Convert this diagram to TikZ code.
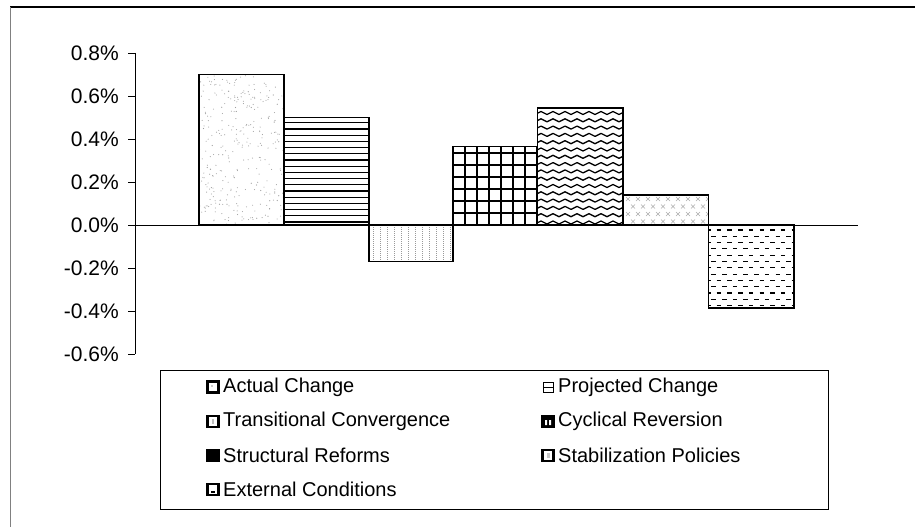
\documentclass[tikz,border=0pt]{standalone}
\usepackage{fontspec}
\setmainfont{Liberation Sans}
\begin{document}
\begin{tikzpicture}[x=1pt,y=-1pt,
  barbox/.style={draw=black,line width=1.7pt},
  ticklbl/.style={font=\fontsize{21}{25}\selectfont, inner sep=0pt, anchor=east},
  leglbl/.style={font=\fontsize{20}{24}\selectfont, inner sep=0pt, anchor=west},
  legsym/.style={draw=black, line width=2.8pt, minimum size=11pt, inner sep=0pt, fill=white},
  patline/.style={line width=1.3pt, black},
]
\useasboundingbox (0,0) rectangle (915,527);
% outer frame
\draw[line width=1.4pt] (10,7) -- (915,7);
\draw[line width=0.8pt, gray] (10,7) -- (10,527);

% axis
\coordinate (axtop) at (135,53);
\coordinate (axbot) at (135,354);
\coordinate (zl) at (135,225);
\coordinate (zr) at (858,225);
\draw[line width=0.9pt] (axtop) -- (axbot);
\foreach \v/\t in {0/0.8\%,1/0.6\%,2/0.4\%,3/0.2\%,4/0.0\%,5/-0.2\%,6/-0.4\%,7/-0.6\%}{
  \draw[line width=0.9pt] (128,{53+43*\v}) -- (135,{53+43*\v});
  \node[ticklbl] (tick\v) at (119,{53+43*\v}) {\t};
}

% bar 1: random dots
\begin{scope}
\clip (199,74.5) rectangle (284,225);
\pgfmathsetseed{7}
\foreach \i in {1,...,320}{
  \pgfmathsetmacro\px{199+85*rnd}
  \pgfmathsetmacro\py{74.5+150.5*rnd}
  \fill[gray!75] (\px,\py) circle (0.55);
}
\end{scope}
% bar 2: horizontal lines
\begin{scope}
\clip (284,117.5) rectangle (369,225);
\foreach \k in {0,...,17}{
  \draw[patline] (284,{222-6.2*\k}) -- (369,{222-6.2*\k});
}
\end{scope}
% bar 3: vertical dotted lines
\begin{scope}
\clip (369,225) rectangle (453,261.5);
\foreach \k in {0,...,11}{
  \draw[gray!80, line width=0.7pt, dash pattern=on 1pt off 1pt] ({373+7*\k},225) -- ({373+7*\k},261.5);
}
\end{scope}
% bar 4: grid
\begin{scope}
\clip (453,146.5) rectangle (537.5,225);
\foreach \k in {1,...,7}{
  \draw[patline] ({453+12*\k},146.5) -- ({453+12*\k},225);
}
\foreach \k in {1,...,6}{
  \draw[patline] (453,{225-12*\k}) -- (537.5,{225-12*\k});
}
\end{scope}
% bar 5: zigzag lines
\begin{scope}
\clip (537.5,107.8) rectangle (623,225);
\foreach \k in {0,...,16}{
  \draw[patline, line join=round] (535,{224-7.3*\k}) \foreach \j in {1,...,8}{ -- ++(6,-3) -- ++(6,3)};
}
\end{scope}
% bar 6: light crosses
\begin{scope}
\clip (623,194.9) rectangle (708.5,225);
\foreach \a in {0,...,8}{
  \foreach \b in {0,...,3}{
    \pgfmathsetmacro\cx{628+10*\a+5*mod(\b,2)}
    \pgfmathsetmacro\cy{199+7.5*\b}
    \draw[gray!65, line width=0.6pt] (\cx-2,\cy-2) -- (\cx+2,\cy+2) (\cx-2,\cy+2) -- (\cx+2,\cy-2);
  }
}
\end{scope}
% bar 7: staggered dashes
\begin{scope}
\clip (708.5,225) rectangle (794,307.8);
\foreach \r in {0,...,13}{
  \foreach \c in {0,...,8}{
    \pgfmathsetmacro\dx{706+10.7*\c+5.35*mod(\r,2)}
    \pgfmathsetmacro\dy{230+6.3*\r}
    \draw[line width=1.1pt] (\dx,\dy) -- (\dx+4.5,\dy);
  }
}
\end{scope}

% bar outlines
\draw[barbox] (199,225) rectangle (284,74.5);
\draw[barbox] (284,225) rectangle (369,117.5);
\draw[barbox] (369,225) rectangle (453,261.5);
\draw[barbox] (453,225) rectangle (537.5,146.5);
\draw[barbox] (537.5,225) rectangle (623,107.8);
\draw[barbox] (623,225) rectangle (708.5,194.9);
\draw[barbox] (708.5,225) rectangle (794,307.8);
% zero line
\draw[line width=0.9pt] (zl) -- (zr);

% legend
\node[draw=black, line width=0.9pt, minimum width=668pt, minimum height=139pt, anchor=north west, inner sep=0pt] (legend) at (160,370) {};
\node[legsym] (s1) at (213,387) {};
\fill[gray!40] (211,385) rectangle (213,387);
\node[leglbl] (l1) at (223,387) {Actual Change};
\node[legsym] (s3) at (213,421.5) {};
\fill[gray!50] (212,419) rectangle (214,424);
\node[leglbl] (l3) at (223,421.5) {Transitional Convergence};
\node[legsym, fill=black] (s5) at (213,455.5) {};
\node[leglbl] (l5) at (223,455.5) {Structural Reforms};
\node[legsym] (s7) at (213,489.5) {};
\fill[black] (211,491) rectangle (215,492.5);
\node[leglbl] (l7) at (223,489.5) {External Conditions};
\node[draw=black, line width=0.9pt, minimum size=10pt, inner sep=0pt] (s2) at (548,387) {};
\draw[line width=0.6pt] (543,387.5) -- (553,387.5);
\node[leglbl] (l2) at (558,387) {Projected Change};
\node[legsym, fill=black] (s4) at (548,421.5) {};
\fill[white] (545,420) rectangle (547,425) (549,420) rectangle (551,425);
\node[leglbl] (l4) at (558,421.5) {Cyclical Reversion};
\node[legsym] (s6) at (548,455.5) {};
\fill[gray!45] (546.5,453) rectangle (549.5,458);
\node[leglbl] (l6) at (558,455.5) {Stabilization Policies};
\end{tikzpicture}
\end{document}
